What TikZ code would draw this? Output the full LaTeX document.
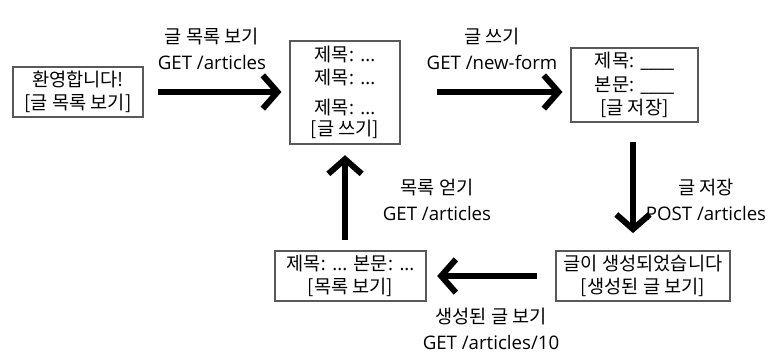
\documentclass[tikz,border=0pt]{standalone}
\usepackage{fontspec}
\setmainfont{Open Sans}
\newfontfamily\krfont{Noto Sans CJK KR}
\newcommand\kr[1]{{\krfont #1}}
\usetikzlibrary{arrows.meta}
\begin{document}
\begin{tikzpicture}[x=0.75pt,y=-0.75pt,
  box/.style={draw=gray!70!black, line width=0.8pt, align=center, inner sep=0pt, font=\fontsize{14}{17.5}\selectfont},
  lbl/.style={align=center, inner sep=0pt, font=\fontsize{14}{19}\selectfont},
  arr/.style={line width=4.5pt, -{Straight Barb[length=11pt,width=25pt]}}]
\useasboundingbox (0,0) rectangle (776,353);
\node[box, minimum width=97.5pt, minimum height=37.5pt] (A) at (78,92) {\kr{환영합니다!}\\ \kr{[글 목록 보기]}};
\node[box, minimum width=82.5pt, minimum height=77.25pt] (B) at (345,92.5) {\kr{제목}: ...\\ \kr{제목}: ...\\[5pt] \kr{제목}: ...\\[-2pt] \kr{[글 쓰기]}};
\node[box, minimum width=95.25pt, minimum height=55.5pt] (C) at (634.5,85) {\kr{제목}: \_\_\_\_\\ \kr{본문}: \_\_\_\_\\ \kr{[글 저장]}};
\node[box, minimum width=130.5pt, minimum height=37.5pt] (D) at (643,276) {\kr{글이 생성되었습니다}\\ \kr{[생성된 글 보기]}};
\node[box, minimum width=113.25pt, minimum height=37.5pt] (E) at (350.5,276) {\kr{제목}: ... \kr{본문}: ...\\ \kr{[목록 보기]}};
\node[lbl] (l1) at (212,49) {\kr{글 목록 보기}\\GET /articles};
\node[lbl] (l2) at (492,49) {\kr{글 쓰기}\\GET /new-form};
\node[lbl] (l3) at (706,200) {\kr{글 저장}\\POST /articles};
\node[lbl] (l4) at (491,329) {\kr{생성된 글 보기}\\GET /articles/10};
\node[lbl] (l5) at (437,200) {\kr{목록 얻기}\\GET /articles};
\draw[arr, shorten <=10.5pt, shorten >=6pt] (A.east) -- (B.west |- A.east);
\draw[arr, shorten <=27pt, shorten >=6pt] (B.east |- A.east) -- (C.west |- A.east);
\coordinate (c3) at (633,122);
\draw[arr, shorten <=15pt, shorten >=13pt] (c3) -- (c3 |- D.north);
\draw[arr, shorten <=13.5pt, shorten >=8pt] (D.west) -- (E.east);
\draw[arr, shorten <=8pt, shorten >=8pt] (E.north -| B.south) -- (B.south);
\end{tikzpicture}
\end{document}
